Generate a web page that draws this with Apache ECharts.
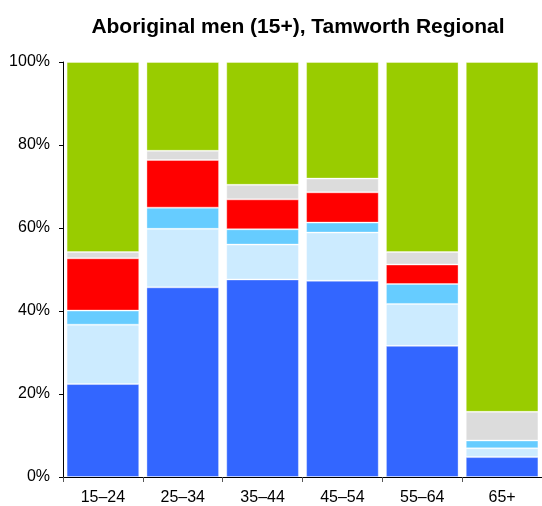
<!DOCTYPE html>
<html>
<head>
<meta charset="utf-8">
<script src="https://cdn.jsdelivr.net/npm/echarts@6/dist/echarts.min.js"></script>
<style>
  html, body { margin: 0; padding: 0; background: #fff; }
  #chart { width: 542px; height: 506px; }
</style>
</head>
<body>
<div id="chart"></div>
<script>
var categories = ['15–24', '25–34', '35–44', '45–54', '55–64', '65+'];
// share of each age group, per cent (bottom to top)
var blue      = [22.4, 45.7, 47.6, 47.3, 31.6, 4.8];
var lightBlue = [14.3, 14.1, 8.4, 11.6, 10.1, 2.1];
var skyBlue   = [3.4, 5.1, 3.7, 2.4, 4.8, 1.9];
var red       = [12.6, 11.5, 7.2, 7.3, 4.7, 0];
var grey      = [1.5, 2.2, 3.5, 3.3, 3.0, 6.9];
var green     = [45.8, 21.4, 29.6, 28.1, 45.8, 84.3];
var yTicks = [0, 20, 40, 60, 80, 100];

var chart = echarts.init(document.getElementById('chart'));

function seg(name, data, color) {
  return {
    name: name,
    type: 'bar',
    stack: 'total',
    barCategoryGap: '9%',
    data: data,
    itemStyle: {
      color: color,
      borderColor: 'rgba(255,255,255,0.35)',
      borderWidth: 1
    }
  };
}

chart.setOption({
  animation: false,
  title: {
    text: 'Aboriginal men (15+), Tamworth Regional',
    left: 293,
    textAlign: 'center',
    top: 12,
    textStyle: {
      fontFamily: 'Liberation Sans',
      fontWeight: 'bold',
      fontSize: 21,
      color: '#000'
    }
  },
  grid: {
    left: 63,
    top: 62,
    bottom: 29,
    right: -3
  },
  xAxis: {
    type: 'category',
    data: categories,
    axisLine: { lineStyle: { color: '#000', width: 1 } },
    axisTick: { show: true, length: 5, lineStyle: { color: '#555' } },
    axisLabel: {
      fontFamily: 'Liberation Sans',
      fontSize: 16,
      color: '#000',
      margin: 13
    }
  },
  yAxis: {
    type: 'value',
    min: yTicks[0],
    max: yTicks[yTicks.length - 1],
    interval: 20,
    axisLine: { show: true, lineStyle: { color: '#000', width: 1 } },
    axisTick: { show: true, length: 4, lineStyle: { color: '#000' } },
    splitLine: { show: false },
    axisLabel: {
      formatter: '{value}%',
      fontFamily: 'Liberation Sans',
      fontSize: 16,
      color: '#000',
      margin: 13
    }
  },
  series: [
    seg('blue', blue, '#3366FF'),
    seg('lightBlue', lightBlue, '#CCEBFF'),
    seg('skyBlue', skyBlue, '#66CCFF'),
    seg('red', red, '#FF0000'),
    seg('grey', grey, '#DCDCDC'),
    seg('green', green, '#99CC00')
  ]
});
</script>
</body>
</html>
